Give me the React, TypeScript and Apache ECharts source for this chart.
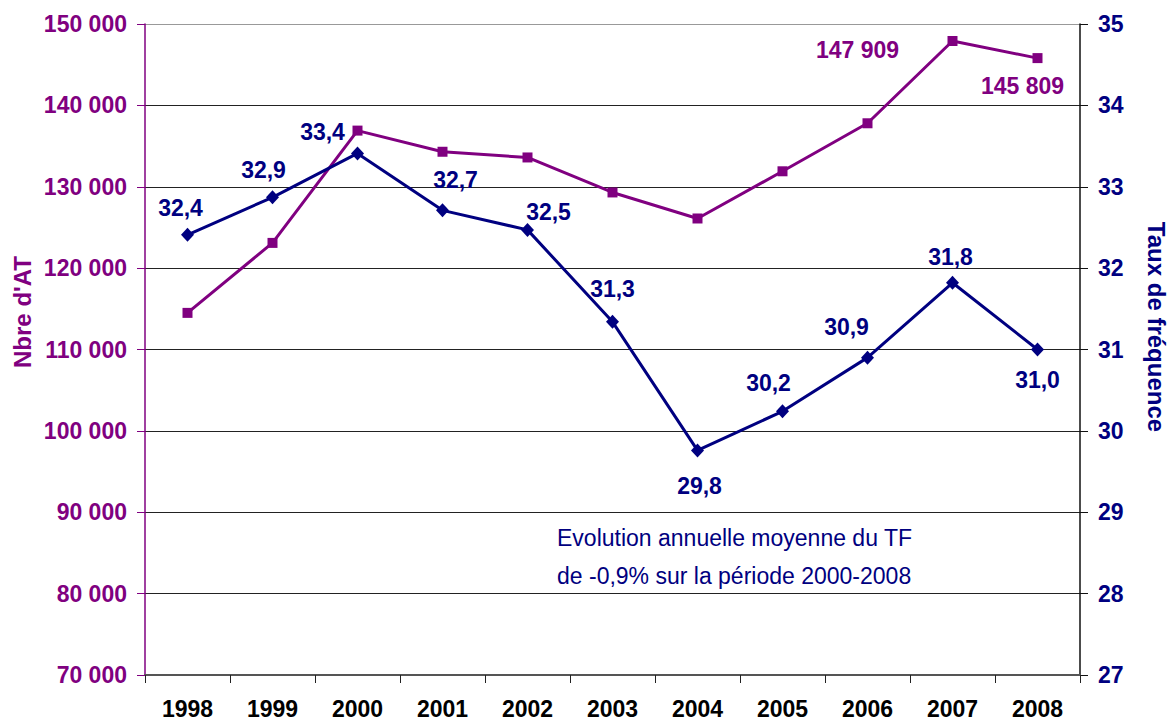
import React, { useEffect, useRef } from "react";
import * as echarts from "echarts";

const years = ["1998", "1999", "2000", "2001", "2002", "2003", "2004", "2005", "2006", "2007", "2008"];
const accidents = [114500, 123100, 136900, 134300, 133600, 129300, 126100, 131900, 137800, 147909, 145809];
const frequency = [32.41, 32.87, 33.41, 32.71, 32.47, 31.34, 29.76, 30.24, 30.9, 31.82, 31.0];
const leftTicks = { min: 70000, max: 150000, interval: 10000 };
const rightTicks = { min: 27, max: 35, interval: 1 };
const annotation = ["Evolution annuelle moyenne du TF", "de -0,9% sur la période 2000-2008"];

// label offsets (style)
const freqLabelOffsets: number[][] = [
  [-7, -27], [-9, -27], [-35, -21], [13, -30], [21, -18], [0, -33],
  [2, 36], [-14, -28], [-21, -31], [-2, -26], [0, 30],
];
const accLabelOffsets: (number[] | null)[] = [null, null, null, null, null, null, null, null, null, [-95, 9], [-15, 28]];

const PURPLE = "#800080";
const NAVY = "#000080";
const FONT = "'Liberation Sans', Arial, sans-serif";

const fmtThousands = (v: number) => String(Math.round(v)).replace(/\B(?=(\d{3})+(?!\d))/g, " ");
const fmtDec = (v: number) => v.toFixed(1).replace(".", ",");

export default function App() {
  const ref = useRef<HTMLDivElement>(null);
  useEffect(() => {
    if (!ref.current) return;
    const chart = echarts.init(ref.current, undefined, { renderer: "svg" });
    const gridColors = ["#555", "#222", "#222", "#222", "#222", "#222", "#222", "#222", "#999"];
    chart.setOption({
      animation: false,
      backgroundColor: "#fff",
      textStyle: { fontFamily: FONT },
      grid: { left: 145, right: 88, top: 24, bottom: 45, containLabel: false },
      xAxis: {
        type: "category",
        data: years,
        boundaryGap: true,
        axisLine: { lineStyle: { color: "#555", width: 2 } },
        axisTick: { show: true, length: 8, lineStyle: { color: "#222" } },
        axisLabel: { color: "#000", fontWeight: "bold", fontSize: 23, fontFamily: FONT, margin: 22 },
        splitLine: { show: false },
      },
      yAxis: [
        {
          type: "value",
          ...leftTicks,
          position: "left",
          axisLine: { show: true, lineStyle: { color: PURPLE, width: 1.5 } },
          axisTick: { show: true, length: 8, lineStyle: { color: PURPLE } },
          axisLabel: {
            color: PURPLE, fontWeight: "bold", fontSize: 23, fontFamily: FONT, margin: 18,
            formatter: (v: number) => fmtThousands(v),
          },
          splitLine: { show: true, lineStyle: { color: gridColors, width: 1 } },
        },
        {
          type: "value",
          ...rightTicks,
          position: "right",
          axisLine: { show: true, lineStyle: { color: "#111", width: 1.5 } },
          axisTick: { show: true, length: 8, lineStyle: { color: "#111" } },
          axisLabel: { color: NAVY, fontWeight: "bold", fontSize: 23, fontFamily: FONT, margin: 18 },
          splitLine: { show: false },
        },
      ],
      series: [
        {
          name: "Nbre d'AT",
          type: "line",
          yAxisIndex: 0,
          symbol: "rect",
          symbolSize: 10,
          lineStyle: { color: PURPLE, width: 3 },
          itemStyle: { color: PURPLE },
          z: 2,
          data: accidents.map((v, i) => {
            const off = accLabelOffsets[i];
            return {
              value: v,
              label: off
                ? {
                    show: true, position: "inside", offset: off,
                    color: PURPLE, fontWeight: "bold", fontSize: 23, fontFamily: FONT,
                    backgroundColor: "#fff", padding: [2, 3],
                    formatter: (p: any) => fmtThousands(p.value),
                  }
                : { show: false },
            };
          }),
        },
        {
          name: "Taux de fréquence",
          type: "line",
          yAxisIndex: 1,
          symbol: "diamond",
          symbolSize: [13, 14],
          lineStyle: { color: NAVY, width: 3 },
          itemStyle: { color: NAVY },
          z: 3,
          data: frequency.map((v, i) => ({
            value: v,
            label: {
              show: true, position: "inside", offset: freqLabelOffsets[i],
              color: NAVY, fontWeight: "bold", fontSize: 23, fontFamily: FONT,
              formatter: (p: any) => fmtDec(p.value),
            },
          })),
        },
      ],
      graphic: [
        {
          type: "text", x: 22, y: 312, rotation: Math.PI / 2,
          style: { text: "Nbre d'AT", fill: PURPLE, font: `bold 24px ${FONT}`, textAlign: "center", textVerticalAlign: "middle" },
        },
        {
          type: "text", x: 1156, y: 327, rotation: -Math.PI / 2,
          style: { text: "Taux de fréquence", fill: NAVY, font: `bold 24px ${FONT}`, textAlign: "center", textVerticalAlign: "middle" },
        },
        {
          type: "text", x: 557, y: 538,
          style: { text: annotation[0], fill: NAVY, font: `23px ${FONT}`, textAlign: "left", textVerticalAlign: "middle" },
        },
        {
          type: "text", x: 557, y: 576,
          style: { text: annotation[1], fill: NAVY, font: `23px ${FONT}`, textAlign: "left", textVerticalAlign: "middle" },
        },
      ],
    });
    return () => chart.dispose();
  }, []);
  return <div ref={ref} style={{ position: "fixed", left: 0, top: 0, width: 1168, height: 720 }} />;
}
